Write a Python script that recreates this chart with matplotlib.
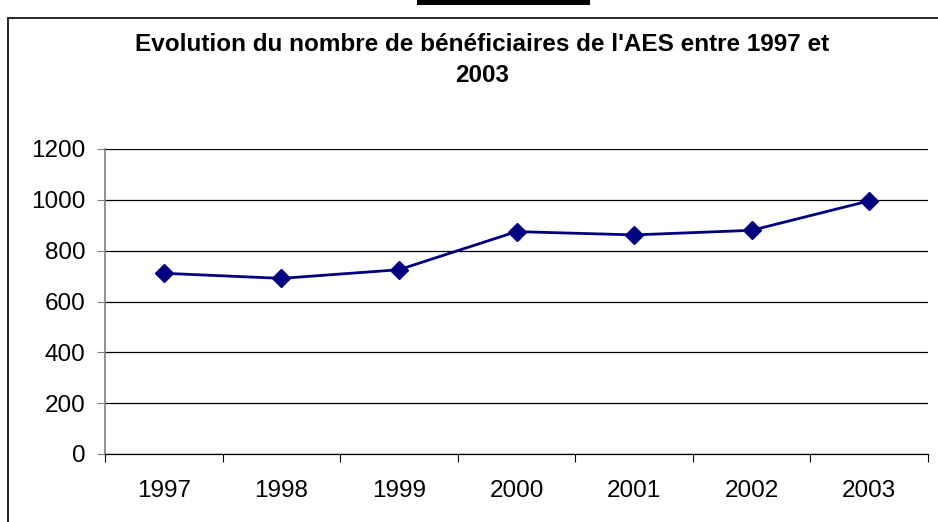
import matplotlib
matplotlib.use("Agg")
import matplotlib.pyplot as plt
from matplotlib.patches import Rectangle
import numpy as np

years = ["1997", "1998", "1999", "2000", "2001", "2002", "2003"]
beneficiaires = [711, 691, 725, 875, 862, 880, 996]
yticks = [0, 200, 400, 600, 800, 1000, 1200]
title = "Evolution du nombre de bénéficiaires de l'AES entre 1997 et\n2003"

plt.rcParams['font.family'] = ['Liberation Sans', 'DejaVu Sans']

W, H = 938, 522
fig = plt.figure(figsize=(W/100, H/100), dpi=100)

# chart frame
fig.patches.append(Rectangle((8/W, -0.1), 1.2, 1 - 18/H + 0.1, transform=fig.transFigure,
                             fill=False, edgecolor='black', linewidth=1.2))
# black bar at top
fig.patches.append(Rectangle((417/W, 1 - 5/H), (590-417)/W, 5/H, transform=fig.transFigure,
                             facecolor='black', edgecolor='none'))

left, right, top, bottom = 105, 928, 149, 454
ax = fig.add_axes([left/W, 1 - bottom/H, (right-left)/W, (bottom-top)/H])
x = np.arange(len(years))
ax.plot(x, beneficiaires, color='#000080', linewidth=2, marker='D', markersize=9,
        markerfacecolor='#000080', markeredgecolor='#000080', zorder=3)

ax.set_xlim(-0.5, len(years) - 0.5)
ax.set_ylim(0, 1200)
ax.set_yticks(yticks)
ax.set_yticklabels([str(v) for v in yticks], fontsize=17.5)
ax.yaxis.grid(True, color='black', linewidth=0.9)
ax.set_axisbelow(True)

ax.set_xticks(np.arange(-0.5, len(years), 1.0))
ax.set_xticklabels([])
ax.set_xticks(x, minor=True)
ax.set_xticklabels(years, minor=True, fontsize=17.5)
ax.tick_params(axis='x', which='major', length=6, direction='out', color='black', width=0.8)
ax.tick_params(axis='x', which='minor', length=0, pad=19)
ax.tick_params(axis='y', length=6, direction='out', color='#808080', width=0.8, pad=8)

for s in ['top', 'right']:
    ax.spines[s].set_visible(False)
ax.spines['left'].set_color('#808080')
ax.spines['left'].set_linewidth(1.2)
ax.spines['bottom'].set_color('black')
ax.spines['bottom'].set_linewidth(0.9)

fig.text(482/W, 1 - 60/H, title, ha='center', va='center', fontsize=17.5,
         fontweight='bold', linespacing=1.42)

fig.savefig("out.png", dpi=100)
